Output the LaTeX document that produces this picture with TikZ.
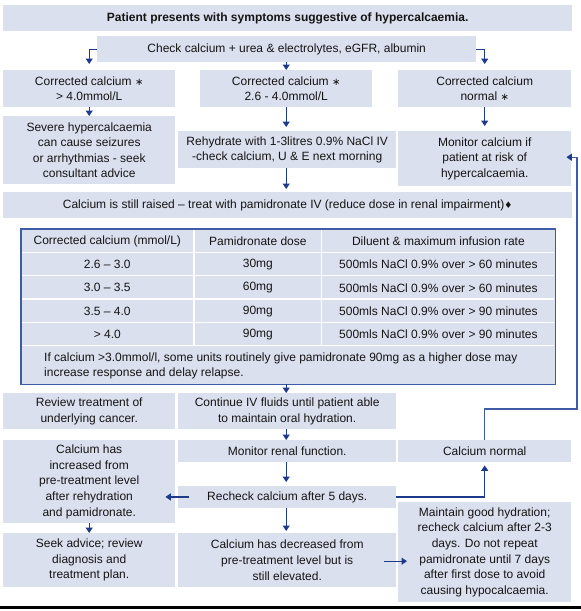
\documentclass[tikz,border=0pt]{standalone}
\usepackage{fontspec}
\setmainfont{Liberation Sans}
\newfontfamily\symfont{DejaVu Sans}
\usetikzlibrary{arrows.meta}
\definecolor{boxfill}{RGB}{219,224,238}
\definecolor{navy}{RGB}{30,58,138}
\definecolor{tblue}{RGB}{62,92,166}
\definecolor{txt}{RGB}{20,20,20}
\newcommand\mystar{{\symfont\fontsize{10}{10}\selectfont ∗}}
\newcommand\mydiam{{\symfont\fontsize{9}{9}\selectfont ♦}}
\tikzset{
  box/.style={fill=boxfill, inner sep=0pt, anchor=north west, align=center,
    font=\fontsize{12}{15.6}\selectfont, text=txt},
  cell/.style={inner sep=0pt, font=\fontsize{12}{15.6}\selectfont, text=txt},
  arr/.style={draw=navy, line width=1.4pt, -{Triangle[length=5.5pt,width=7pt]}},
  fb/.style={draw=tblue, line width=1.4pt, -{Triangle[length=5.5pt,width=7pt,color=navy]}},
}
\begin{document}
\begin{tikzpicture}[x=1pt,y=-1pt]
\useasboundingbox (0,0) rectangle (581,611);
% boxes
\node[box, minimum width=569pt, minimum height=26pt, font=\fontsize{12}{15.6}\selectfont\bfseries] (title) at (3,5) {Patient presents with symptoms suggestive of hypercalcaemia.};
\node[box, minimum width=379pt, minimum height=26pt] (check) at (97,36) {Check calcium + urea \& electrolytes, eGFR, albumin};
\node[box, minimum width=172pt, minimum height=37pt] (c1) at (3,70) {Corrected calcium \mystar\\> 4.0mmol/L};
\node[box, minimum width=172pt, minimum height=37pt] (c2) at (200,70) {Corrected calcium \mystar\\2.6 - 4.0mmol/L};
\node[box, minimum width=173pt, minimum height=37pt] (c3) at (398,70) {Corrected calcium\\normal \mystar};
\node[box, minimum width=172pt, minimum height=68pt] (severe) at (3,116) {Severe hypercalcaemia\\can cause seizures\\or arrhythmias - seek\\consultant advice};
\node[box, minimum width=218pt, minimum height=37pt] (rehyd) at (178,131) {Rehydrate with 1-3litres 0.9\% NaCl IV\\-check calcium, U \& E next morning};
\node[box, minimum width=173pt, minimum height=55pt] (moncal) at (398,131) {Monitor calcium if\\patient at risk of\\hypercalcaemia.};
\node[box, minimum width=569pt, minimum height=26pt] (raised) at (3,192) {Calcium is still raised – treat with pamidronate IV (reduce dose in renal impairment)\mydiam};
% table
\node[fill=boxfill, inner sep=0pt, anchor=north west, minimum width=534.4pt, minimum height=154.7pt] (tab) at (20.6,229.3) {};
\foreach \yy in {252.3,275.7,299,322.3,345.7}
  \draw[white, line width=1.5pt] (21.5,\yy) -- (554,\yy);
\foreach \xx in {194,321.7}
  \draw[white, line width=1.5pt] (\xx,230) -- (\xx,345.7);
\draw[tblue, line width=1.8pt] (tab.north west) rectangle (tab.south east);
\node[cell] (h1) at (107.3,241) {Corrected calcium (mmol/L)};
\node[cell] (h2) at (257.9,241) {Pamidronate dose};
\node[cell] (h3) at (438.4,241) {Diluent \& maximum infusion rate};
\node[cell] (a1) at (107.3,264.5) {2.6 – 3.0};
\node[cell] (a2) at (257.9,264.5) {30mg};
\node[cell] (a3) at (438.4,264.5) {500mls NaCl 0.9\% over > 60 minutes};
\node[cell] (b1) at (107.3,287.8) {3.0 – 3.5};
\node[cell] (b2) at (257.9,287.8) {60mg};
\node[cell] (b3) at (438.4,287.8) {500mls NaCl 0.9\% over > 60 minutes};
\node[cell] (d1) at (107.3,311.2) {3.5 – 4.0};
\node[cell] (d2) at (257.9,311.2) {90mg};
\node[cell] (d3) at (438.4,311.2) {500mls NaCl 0.9\% over > 90 minutes};
\node[cell] (e1) at (107.3,334.5) {> 4.0};
\node[cell] (e2) at (257.9,334.5) {90mg};
\node[cell] (e3) at (438.4,334.5) {500mls NaCl 0.9\% over > 90 minutes};
\node[cell, anchor=west, align=left] (foot) at (44,365.7) {If calcium >3.0mmol/l, some units routinely give pamidronate 90mg as a higher dose may\\increase response and delay relapse.};
% lower boxes
\node[box, minimum width=172pt, minimum height=36pt] (review) at (3,393) {Review treatment of\\underlying cancer.};
\node[box, minimum width=218pt, minimum height=36pt] (cont) at (178,393) {Continue IV fluids until patient able\\to maintain oral hydration.};
\node[box, minimum width=172pt, minimum height=83pt] (incr) at (3,440) {Calcium has\\increased from\\pre-treatment level\\after rehydration\\and pamidronate.};
\node[box, minimum width=218pt, minimum height=22pt] (renal) at (178,440) {Monitor renal function.};
\node[box, minimum width=173pt, minimum height=22pt] (normal) at (398,440) {Calcium normal};
\node[box, minimum width=218pt, minimum height=21.5pt] (recheck) at (178,486) {Recheck calcium after 5 days.};
\node[box, minimum width=172pt, minimum height=54pt] (seek) at (3,533) {Seek advice; review\\diagnosis and\\treatment plan.};
\node[box, minimum width=218pt, minimum height=54pt] (decr) at (178,533) {Calcium has decreased from\\pre-treatment level but is\\still elevated.};
\node[box, minimum width=173pt, minimum height=100pt] (maint) at (398,502) {Maintain good hydration;\\recheck calcium after 2-3\\days. Do not repeat\\pamidronate until 7 days\\after first dose to avoid\\causing hypocalcaemia.};
% connectors
\draw[arr] (check.west) -| ([yshift=6pt]c1.north);
\draw[arr] (check.south -| c2.north) -- (c2.north);
\draw[arr] (check.east) -| ([yshift=6pt]c3.north);
\draw[arr] (c1.south) -- (severe.north);
\draw[arr] (c2.south) -- ([yshift=4pt]c2.south |- rehyd.north);
\draw[arr] (c3.south) -- ([yshift=5pt]moncal.north);
\draw[arr] (c2.south |- rehyd.south) -- ([yshift=3pt]c2.south |- raised.north);
\draw[arr] (c2.south |- tab.south) -- (c2.south |- cont.north);
\draw[arr] (c2.south |- cont.south) -- (c2.south |- renal.north);
\draw[arr] (c2.south |- renal.south) -- ([yshift=4pt]c2.south |- recheck.north);
\draw[arr] ([xshift=11pt]recheck.west) -- ([xshift=-10pt]recheck.west -| incr.east);
\draw[arr] (recheck.east) -| ([yshift=-3pt]normal.south);
\draw[arr] (incr.south) -- (seek.north);
\draw[arr] (c2.south |- recheck.south) -- ([yshift=2pt]c2.south |- decr.north);
\draw[arr] ([xshift=-12pt,yshift=-1pt]decr.east) -- ([xshift=9pt,yshift=-1pt]decr.east -| maint.west);
\coordinate (fbc) at (577,409);
\draw[fb] (normal.north) |- (fbc) |- ([xshift=-5pt,yshift=1.5pt]moncal.east);
% bottom rule
\draw[black, line width=3pt] (0,607.5) -- (581,607.5);
\end{tikzpicture}
\end{document}
